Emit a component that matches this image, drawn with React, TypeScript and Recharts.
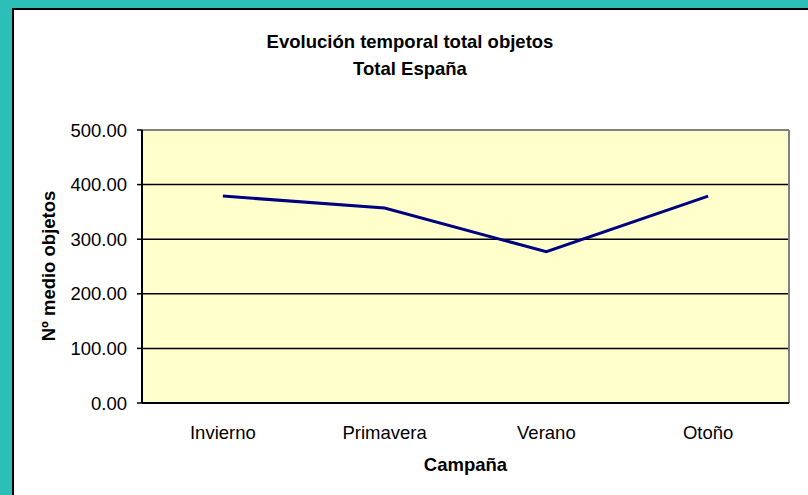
import React from 'react';
import { LineChart, Line, XAxis, YAxis, CartesianGrid, ReferenceLine } from 'recharts';

const categories = ['Invierno', 'Primavera', 'Verano', 'Otoño'];
const values = [379, 357, 277, 379];
const yTicks = [0, 100, 200, 300, 400, 500];

const data = categories.map((c, i) => ({ name: c, pos: i + 0.5, value: values[i] }));
const edgeTicks = categories.map((_, i) => i).concat([categories.length]);
const labelTicks = categories.map((_, i) => i + 0.5);

const font = '"Liberation Sans", Arial, sans-serif';

export default function App() {
    return (
        <div style={{ position: 'absolute', left: 0, top: 0, width: 808, height: 495, background: '#2DBEB8', fontFamily: font }}>
            {/* white chart area */}
            <div style={{ position: 'absolute', left: 12, top: 8, width: 794, height: 487, background: '#fff', borderTop: '2px solid #000', borderLeft: '2px solid #000' }} />

            <div style={{ position: 'absolute', left: 12, width: 796, top: 28, textAlign: 'center', fontWeight: 'bold', fontSize: 18.5, lineHeight: '27px', color: '#000' }}>
                Evolución temporal total objetos<br />Total España
            </div>

            <LineChart
                width={808}
                height={495}
                data={data}
                margin={{ top: 130, right: 19, bottom: 12, left: 12 }}
                style={{ position: 'absolute', left: 0, top: 0, fontFamily: font }}
            >
                <CartesianGrid xAxisId="edge" vertical={false} fill="#FFFFCC" stroke="#000" strokeWidth={1.5} fillOpacity={1} />
                <XAxis
                    xAxisId="edge"
                    type="number"
                    dataKey="pos"
                    domain={[0, categories.length]}
                    allowDataOverflow
                    ticks={edgeTicks}
                    interval={0}
                    tick={false}
                    tickSize={5}
                    height={6}
                    axisLine={{ stroke: '#000', strokeWidth: 2 }}
                    tickLine={{ stroke: '#000', strokeWidth: 1.5 }}
                />
                <XAxis
                    xAxisId="lab"
                    type="number"
                    dataKey="pos"
                    domain={[0, categories.length]}
                    allowDataOverflow
                    ticks={labelTicks}
                    interval={0}
                    tickFormatter={(v: number) => categories[Math.floor(v)]}
                    tickSize={0}
                    tickMargin={17}
                    height={74}
                    axisLine={false}
                    tickLine={false}
                    tick={{ fill: '#000', fontSize: 18.5 }}
                />
                <YAxis
                    domain={[0, 500]}
                    ticks={yTicks}
                    interval={0}
                    width={130}
                    tickFormatter={(v: number) => v.toFixed(2)}
                    tickSize={5}
                    tickMargin={10}
                    axisLine={{ stroke: '#000', strokeWidth: 2 }}
                    tickLine={{ stroke: '#000', strokeWidth: 1.5 }}
                    tick={{ fill: '#000', fontSize: 18.5 }}
                />
                <ReferenceLine xAxisId="edge" y={500} stroke="#808080" strokeWidth={2} />
                <ReferenceLine xAxisId="edge" x={categories.length} stroke="#808080" strokeWidth={2} />
                <Line
                    xAxisId="edge"
                    type="linear"
                    dataKey="value"
                    stroke="#000080"
                    strokeWidth={3}
                    dot={false}
                    activeDot={false}
                    isAnimationActive={false}
                />
            </LineChart>

            <div style={{ position: 'absolute', left: 49, top: 266, width: 0, height: 0 }}>
                <div style={{ position: 'absolute', left: 0, top: 0, transform: 'translate(-50%, -50%) rotate(-90deg)', whiteSpace: 'nowrap', fontWeight: 'bold', fontSize: 18.5, lineHeight: '20px' }}>
                    Nº medio objetos
                </div>
            </div>

            <div style={{ position: 'absolute', left: 142, width: 647, top: 454, textAlign: 'center', fontWeight: 'bold', fontSize: 18.5, lineHeight: '22px' }}>
                Campaña
            </div>
        </div>
    );
}
